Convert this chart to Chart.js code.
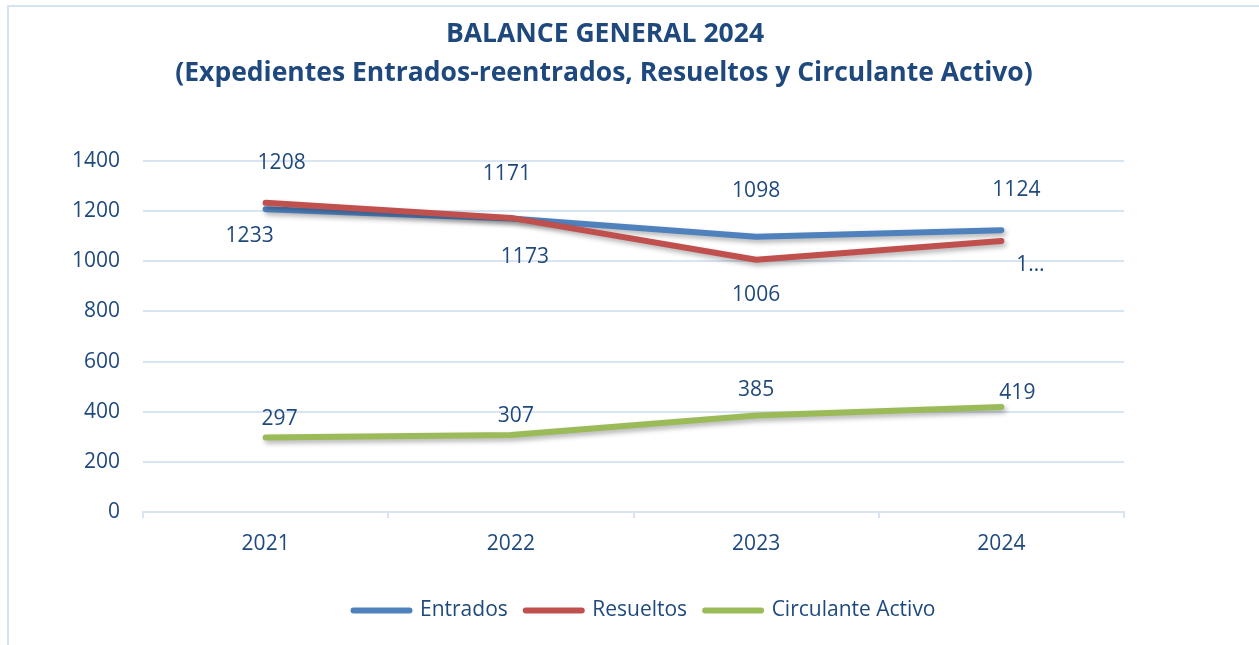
<!DOCTYPE html>
<html><head><meta charset="utf-8">
<script src="https://cdn.jsdelivr.net/npm/chart.js@4/dist/chart.umd.min.js"></script>
<style>
html,body{margin:0;padding:0;background:#fff;overflow:hidden;width:1259px;height:645px;}
#frame{position:absolute;left:7px;top:5px;width:1300px;height:700px;border:2px solid #d6e3f5;box-sizing:border-box;}
#wrap{position:absolute;left:0;top:0;width:1259px;height:645px;}
</style></head><body>
<div id="frame"></div>
<div id="wrap"><canvas id="c" width="1259" height="645"></canvas></div>
<script>
const categories = ['2021', '2022', '2023', '2024'];
const entrados = [1208, 1171, 1098, 1124];
const resueltos = [1233, 1173, 1006, 1081];
const circulante = [297, 307, 385, 419];
const seriesNames = ['Entrados', 'Resueltos', 'Circulante Activo'];
const yMin = 0, yMax = 1400, yStep = 200;
const titleLines = ['BALANCE GENERAL 2024', '(Expedientes Entrados-reentrados, Resueltos y Circulante Activo)'];
// labels as shown on the picture (last Resueltos label is truncated in the original)
const resueltosLabels = ['1233', '1173', '1006', '1\u2026'];

const TXT = '#1f497d';
const GRID = '#d9e4f3';
const FONT = 'Open Sans';
const LEFT_PAD = 30;

const titlePlugin = {
  id: 'customTitle',
  afterDraw(chart) {
    const ctx = chart.ctx;
    ctx.save();
    ctx.fillStyle = TXT;
    ctx.textAlign = 'center';
    ctx.textBaseline = 'middle';
    ctx.font = 'bold 26.5px "' + FONT + '"';
    ctx.fillText(titleLines[0], 605, 34);
    ctx.fillText(titleLines[1], 604, 73);
    ctx.restore();
  }
};

const shadowPlugin = {
  id: 'lineShadow',
  beforeDatasetDraw(chart) {
    const ctx = chart.ctx;
    ctx.save();
    ctx.shadowColor = 'rgba(0,0,0,0.30)';
    ctx.shadowBlur = 5;
    ctx.shadowOffsetX = 2;
    ctx.shadowOffsetY = 3;
  },
  afterDatasetDraw(chart) {
    chart.ctx.restore();
  }
};

const labelPlugin = {
  id: 'valueLabels',
  afterDatasetsDraw(chart, args, opts) {
    const ctx = chart.ctx;
    ctx.save();
    ctx.fillStyle = TXT;
    ctx.font = '21px "' + FONT + '"';
    ctx.textAlign = 'center';
    ctx.textBaseline = 'middle';
    chart.data.datasets.forEach((ds, di) => {
      const meta = chart.getDatasetMeta(di);
      const off = opts.offsets[di];
      meta.data.forEach((pt, i) => {
        const txt = ds.labelTexts ? ds.labelTexts[i] : String(ds.data[i]);
        ctx.fillText(txt, pt.x + off[i][0], pt.y + off[i][1]);
      });
    });
    ctx.restore();
  }
};

new Chart(document.getElementById('c'), {
  type: 'line',
  data: {
    labels: categories,
    datasets: [
      { label: seriesNames[0], data: entrados, borderColor: '#4f81bd', backgroundColor: '#4f81bd', order: 3 },
      { label: seriesNames[1], data: resueltos, labelTexts: resueltosLabels, borderColor: '#c0504d', backgroundColor: '#c0504d', order: 2 },
      { label: seriesNames[2], data: circulante, borderColor: '#9bbb59', backgroundColor: '#9bbb59', order: 1 }
    ]
  },
  options: {
    responsive: false,
    animation: false,
    devicePixelRatio: 1,
    elements: {
      line: { borderWidth: 6, tension: 0, borderCapStyle: 'round', borderJoinStyle: 'round', fill: false },
      point: { radius: 0, hoverRadius: 0 }
    },
    layout: { padding: { top: 161, left: LEFT_PAD, right: 0, bottom: 14 } },
    scales: {
      x: {
        type: 'category',
        offset: true,
        grid: { display: true, drawOnChartArea: false, drawTicks: true, tickLength: 6, color: GRID, lineWidth: 2, offset: true },
        border: { display: true, color: GRID, width: 2 },
        ticks: { color: TXT, font: { family: FONT, size: 21 }, padding: 13 },
        afterFit: s => { s.height = 70; }
      },
      y: {
        min: yMin, max: yMax,
        ticks: { stepSize: yStep, color: TXT, font: { family: FONT, size: 21 }, padding: 23, callback: v => String(v) },
        grid: { color: GRID, lineWidth: 2, drawTicks: false },
        border: { display: false },
        afterFit: s => { s.width = 143 - LEFT_PAD; }
      },
      y2: {
        position: 'right',
        display: true,
        grid: { display: false },
        border: { display: false },
        ticks: { display: false },
        afterFit: s => { s.width = 135; }
      }
    },
    plugins: {
      title: { display: false },
      tooltip: { enabled: false },
      legend: {
        position: 'bottom',
        labels: {
          usePointStyle: true,
          pointStyle: 'line',
          pointStyleWidth: 56,
          color: TXT,
          font: { family: FONT, size: 21 },
          padding: 18,
          sort: (a, b) => a.datasetIndex - b.datasetIndex,
          generateLabels: chart => chart.data.datasets.map((ds, i) => ({
            text: ds.label,
            datasetIndex: i,
            strokeStyle: ds.borderColor,
            fillStyle: ds.borderColor,
            fontColor: TXT,
            lineWidth: 6,
            lineCap: 'round',
            pointStyle: 'line',
            hidden: false
          }))
        }
      },
      valueLabels: {
        offsets: [
          [[16, -46], [-4, -44], [0, -46], [15, -40]],
          [[-16, 33], [14, 39], [0, 35], [29, 24]],
          [[14, -19], [5, -19], [0, -25], [16, -14]]
        ]
      }
    }
  },
  plugins: [titlePlugin, shadowPlugin, labelPlugin]
});
</script>
</body></html>
